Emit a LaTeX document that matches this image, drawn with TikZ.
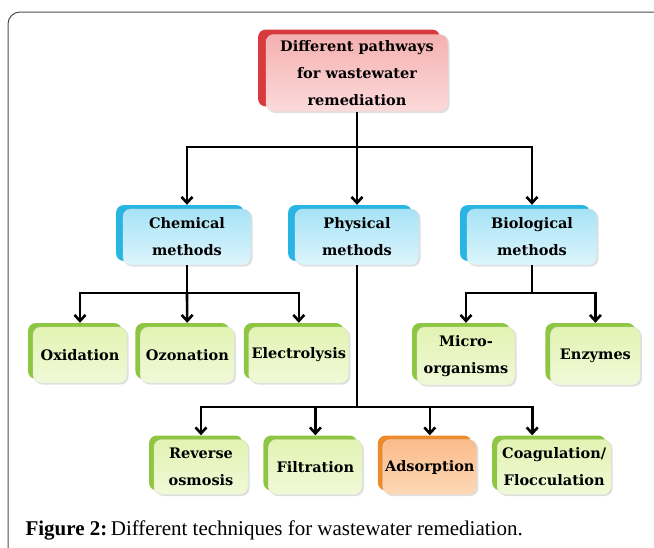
\documentclass[tikz,border=0pt]{standalone}
\usepackage{fontspec}
\setmainfont{Liberation Serif}
\newfontfamily\boxfont{DejaVu Serif}
\usetikzlibrary{positioning,shadows,arrows.meta}

\definecolor{rback}{HTML}{D83A3D}
\definecolor{rtop}{HTML}{F5B0B0}
\definecolor{rbot}{HTML}{FCDADA}
\definecolor{bback}{HTML}{29B5E3}
\definecolor{btop}{HTML}{A6E3F6}
\definecolor{bbot}{HTML}{DDF5FC}
\definecolor{gback}{HTML}{8EC641}
\definecolor{gtop}{HTML}{E2F3B2}
\definecolor{gbot}{HTML}{F1F9D8}
\definecolor{oback}{HTML}{EF8A2B}
\definecolor{otop}{HTML}{FABC8B}
\definecolor{obot}{HTML}{FDD8B7}

\begin{document}
\begin{tikzpicture}[x=1pt, y=-1pt,
  box/.style={rounded corners=8pt, align=center, inner sep=2pt,
    font=\boxfont\bfseries\fontsize{14.5}{27}\selectfont,
    draw=white!75!gray, line width=0.4pt,
    drop shadow={opacity=0.25, shadow xshift=1.5pt, shadow yshift=-1.5pt}},
  rbox/.style={box, top color=rtop, bottom color=rbot,
    general shadow={fill=rback, shadow xshift=-8pt, shadow yshift=5pt}},
  bbox/.style={box, top color=btop, bottom color=bbot,
    general shadow={fill=bback, shadow xshift=-7pt, shadow yshift=4pt}},
  gbox/.style={box, top color=gtop, bottom color=gbot,
    general shadow={fill=gback, shadow xshift=-5pt, shadow yshift=4pt}},
  obox/.style={box, top color=otop, bottom color=obot,
    general shadow={fill=oback, shadow xshift=-5pt, shadow yshift=4pt}},
  ln/.style={line width=2.6pt},
  arr/.style={ln, -{Straight Barb[length=6pt,width=11pt]}, shorten >=4pt}]

\useasboundingbox (0,0) rectangle (654,547);
\draw[gray!60!black, line width=1pt, rounded corners=12pt] (8,580) -- (8,12) -- (690,12);

\node[rbox, minimum width=182pt, minimum height=77pt] (r) at (357,73)
  {Different pathways\\for wastewater\\remediation};

\node[bbox, minimum width=128pt, minimum height=56pt] (ch) at (187,237) {Chemical\\methods};
\node[bbox, minimum width=124pt, minimum height=56pt] (ph) at (357,237) {Physical\\methods};
\node[bbox, minimum width=130pt, minimum height=56pt] (bi) at (532,237) {Biological\\methods};

\node[gbox, minimum width=94pt, minimum height=56pt] (ox) at (80,355) {Oxidation};
\node[gbox, minimum width=94pt, minimum height=56pt, right=13pt of ox] (oz) {Ozonation};
\node[gbox, minimum width=100pt, minimum height=56pt, right=14pt of oz] (el) {Electrolysis};
\node[gbox, minimum width=98pt, minimum height=58pt] (mi) at (466,356) {Micro-\\organisms};
\node[gbox, minimum width=90pt, minimum height=58pt, right=35pt of mi] (en) {Enzymes};

\node[gbox, minimum width=94pt, minimum height=55pt] (ro) at (201,467) {Reverse\\osmosis};
\node[gbox, minimum width=94pt, minimum height=55pt, right=20pt of ro] (fi) {Filtration};
\node[obox, minimum width=94pt, minimum height=55pt, right=20pt of fi] (ad) {Adsorption};
\node[gbox, minimum width=114pt, minimum height=55pt, right=20pt of ad] (co) {Coagulation/\\Flocculation};

\coordinate (j0) at (357,147);
\coordinate (j1) at (187,293);
\coordinate (j2) at (357,407);
\coordinate (j3) at (532,293);

\draw[ln] (r) -- (j0);
\draw[arr] (j0) -| (ch);
\draw[arr] (j0) -- (ph);
\draw[arr] (j0) -| (bi);

\draw[ln] (ch) -- (j1);
\draw[arr] (j1) -| (ox);
\draw[arr] (j1) -- (oz);
\draw[arr] (j1) -| (el);

\draw[ln] (bi) -- (j3);
\draw[arr] (j3) -| (mi);
\draw[arr] (j3) -| (en);

\draw[ln] (ph) -- (j2);
\draw[arr] (j2) -| (ro);
\draw[arr] (j2) -| (fi);
\draw[arr] (j2) -| (ad);
\draw[arr] (j2) -| ([xshift=-22pt]co.north);

\node[anchor=base west, font=\fontsize{21}{24}\selectfont] (cap) at (22,535)
  {\textbf{Figure 2:}\,Different techniques for wastewater remediation.};
\end{tikzpicture}
\end{document}
